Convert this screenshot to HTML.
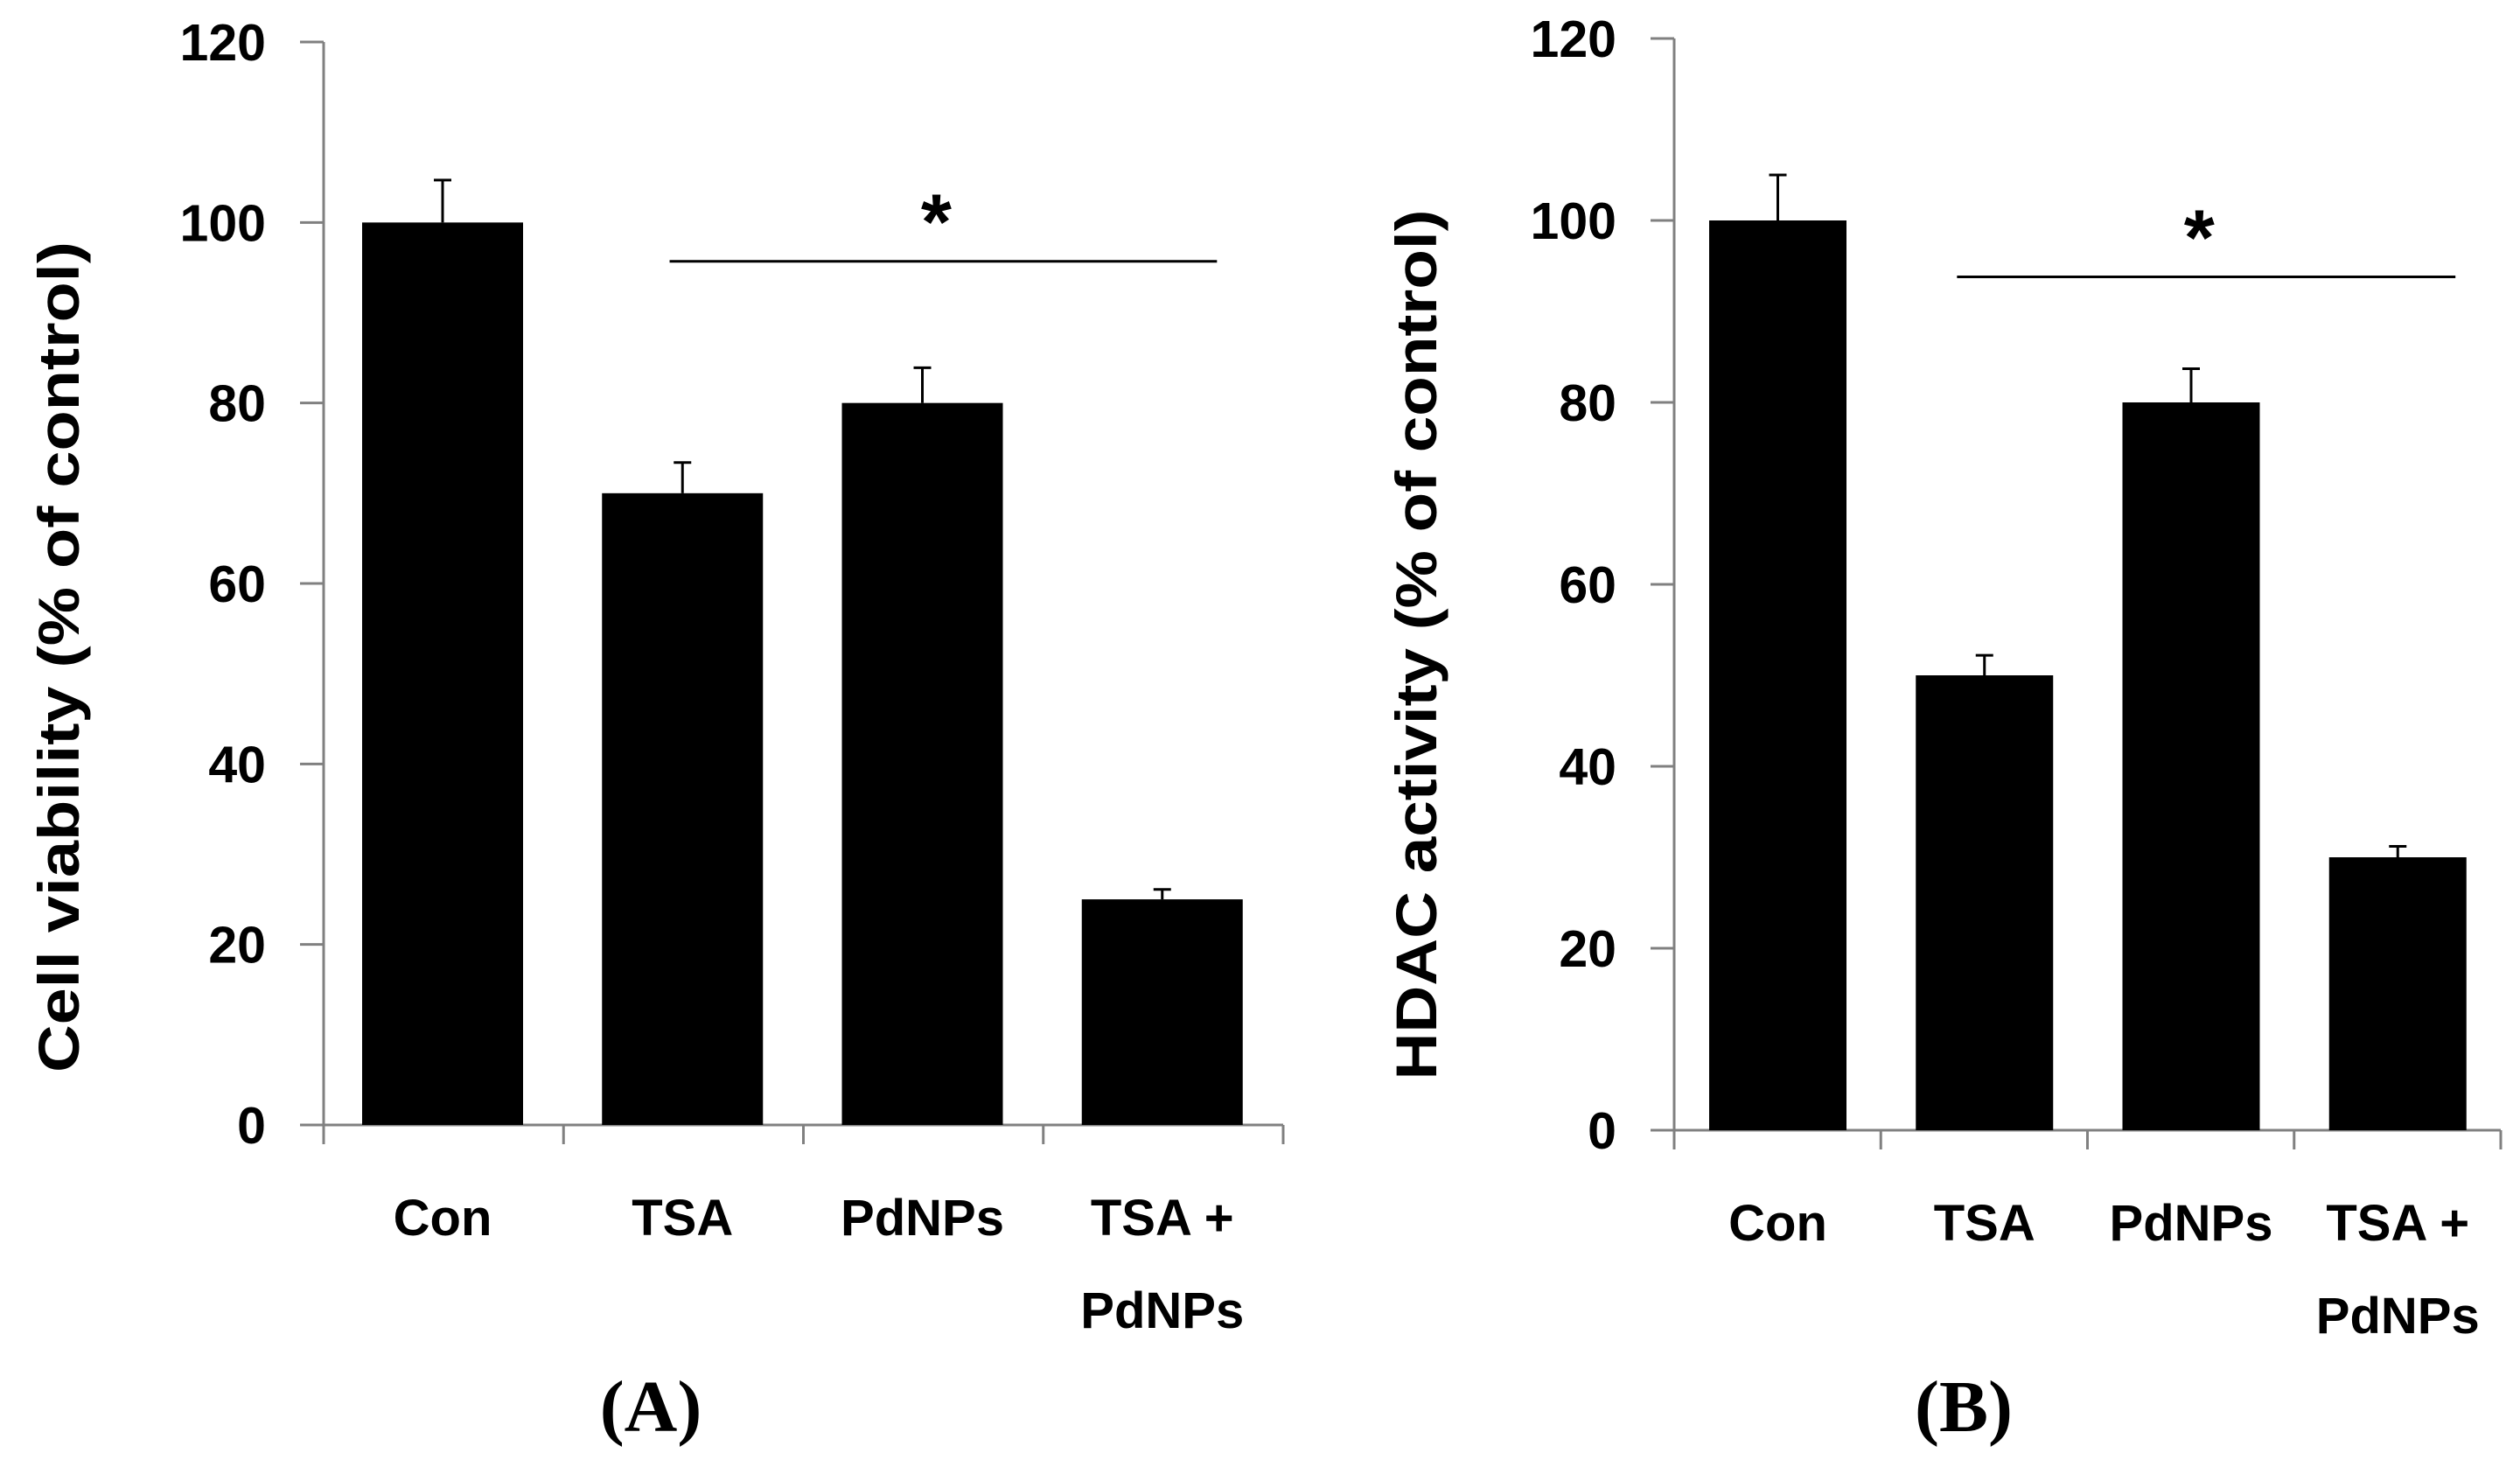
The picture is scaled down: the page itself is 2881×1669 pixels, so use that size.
<!DOCTYPE html>
<html><head><meta charset="utf-8"><style>
html,body{margin:0;padding:0;background:#fff;}
svg{display:block;}
text{font-family:"Liberation Sans",sans-serif;}
</style></head><body>
<svg id="fig" width="2881" height="1669" viewBox="0 0 2881 1669" xmlns="http://www.w3.org/2000/svg">
<rect width="2881" height="1669" fill="#fff"/>
</svg>
<script>
const categories = ["Con", "TSA", "PdNPs", "TSA +|PdNPs"];
const yTicks = [0, 20, 40, 60, 80, 100, 120];
const valuesA = [100, 70, 80, 25];
const errorsA = [104.7, 73.4, 83.9, 26.1];
const valuesB = [100, 50, 80, 30];
const errorsB = [105.0, 52.2, 83.7, 31.2];
const sigA = {from: 1, to: 3, value: 95.7};
const sigB = {from: 1, to: 3, value: 93.8};

const NS = "http://www.w3.org/2000/svg";
const svg = document.getElementById('fig');
function mk(tag, attrs, parent, txt) {
  const e = document.createElementNS(NS, tag);
  for (const k in attrs) e.setAttribute(k, attrs[k]);
  if (txt !== undefined) e.textContent = txt;
  (parent || svg).appendChild(e);
  return e;
}

function panel(cfg) {
  const g = mk('g', {});
  
  
  const yScale = v => cfg.y0 - (v / 120) * (cfg.y0 - cfg.y120);
  const slot = (cfg.xEnd - cfg.x0) / categories.length;
  const xLeft = i => cfg.x0 + i * slot;
  const ya = mk('line', {x1: cfg.x0, y1: yScale(120), x2: cfg.x0, y2: cfg.y0 + 22, stroke: '#808080', 'stroke-width': 3}, g);
  
  
  const xa = mk('line', {x1: cfg.x0 - 27, y1: cfg.y0, x2: cfg.xEnd, y2: cfg.y0, stroke: '#808080', 'stroke-width': 3}, g);
  
  
  yTicks.forEach(t => {
    const y = yScale(t);
    const tk = mk('line', {x1: cfg.x0 - 27, y1: y, x2: cfg.x0, y2: y, stroke: '#808080', 'stroke-width': 3}, g);
    
    
    const lb = mk('text', {x: cfg.x0 - 66, y: y + 21, 'text-anchor': 'end', 'font-size': 59, 'font-weight': 'bold'}, g, String(t));
    
    
  });
  for (let i = 1; i <= categories.length; i++) {
    const x = xLeft(i);
    const tk = mk('line', {x1: x, y1: cfg.y0, x2: x, y2: cfg.y0 + 22, stroke: '#808080', 'stroke-width': 3}, g);
    
    
  }
  cfg.values.forEach((v, i) => {
    const bx = xLeft(i) + cfg.off;
    const cx = bx + cfg.bw / 2;
    const ey = yScale(cfg.errors[i]);
    const el = mk('line', {x1: cx, y1: yScale(v), x2: cx, y2: ey, stroke: '#000', 'stroke-width': 3}, g);
    
    
    const ec = mk('line', {x1: cx - 10, y1: ey, x2: cx + 10, y2: ey, stroke: '#000', 'stroke-width': 3}, g);
    
    
    const r = mk('rect', {x: bx, y: yScale(v), width: cfg.bw, height: cfg.y0 - yScale(v), fill: '#000'}, g);
    
    
    const lines = categories[i].split('|');
    lines.forEach((ln, j) => {
      const t = mk('text', {x: cx, y: cfg.labY + j * 106, 'text-anchor': 'middle', 'font-size': 58, 'font-weight': 'bold'}, g, ln);
      
      
    });
  });
  const sy = yScale(cfg.sig.value);
  const sx1 = xLeft(cfg.sig.from) + cfg.off + cfg.bw * cfg.sf1;
  const sx2 = xLeft(cfg.sig.to) + cfg.off + cfg.bw * cfg.sf2;
  const sl = mk('line', {x1: sx1, y1: sy, x2: sx2, y2: sy, stroke: '#000', 'stroke-width': 3}, g);
  
  
  const st = mk('text', {x: (sx1 + sx2) / 2 - 8, y: sy - 14, 'text-anchor': 'middle', 'font-size': 90, 'font-weight': 'bold'}, g, '*');
  
  
  const yt = mk('text', {x: 0, y: 0, 'text-anchor': 'middle', 'font-size': 66, 'font-weight': 'bold', textLength: cfg.titleLen, lengthAdjust: 'spacingAndGlyphs', transform: `translate(${cfg.titleX},${cfg.titleY}) rotate(-90)`}, g, cfg.title);
  
  
  const pl = mk('text', {x: cfg.panelX, y: 1636, 'text-anchor': 'middle', 'font-size': 84, 'font-weight': 'bold', style: 'font-family:"Liberation Serif",serif'}, g, cfg.panelLabel);
  
  
}

panel({name: 'panel-a-cell-viability', x0: 370, xEnd: 1467, y0: 1286, y120: 48, off: 44, bw: 184,
  values: valuesA, errors: errorsA, sig: sigA, sf1: 0.42, sf2: 0.84, labY: 1412,
  title: 'Cell viability (% of control)', titleX: 90, titleY: 751, titleLen: 950,
  panelX: 744, panelLabel: '(A)'});
panel({name: 'panel-b-hdac-activity', x0: 1914, xEnd: 2859, y0: 1292, y120: 44, off: 40, bw: 157,
  values: valuesB, errors: errorsB, sig: sigB, sf1: 0.3, sf2: 0.92, labY: 1418,
  title: 'HDAC activity (% of control)', titleX: 1642, titleY: 737, titleLen: 995,
  panelX: 2245, panelLabel: '(B)'});
</script>
</body></html>
